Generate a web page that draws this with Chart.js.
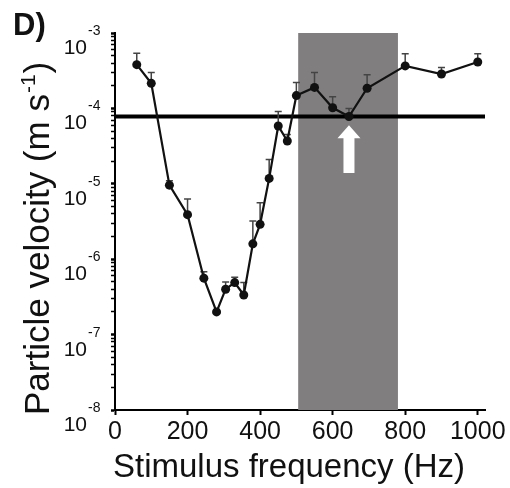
<!DOCTYPE html>
<html>
<head>
<meta charset="utf-8">
<script src="https://cdn.jsdelivr.net/npm/chart.js@4"></script>
<style>
  html,body{margin:0;padding:0;background:#fff;}
  #wrap{width:510px;height:488px;position:relative;}
</style>
</head>
<body>
<div id="wrap"><canvas id="pv"></canvas></div>
<script>
// stimulus frequency (Hz) and particle velocity threshold (m/s)
const freqHz   = [60, 100, 150, 200, 245, 280, 305, 330, 355, 380, 400, 425, 450, 475, 500, 550, 600, 645, 695, 800, 900, 1000];
const velocity = [3.8e-4, 2.15e-4, 9.6e-6, 3.9e-6, 5.6e-7, 2.0e-7, 4.0e-7, 4.9e-7, 3.35e-7, 1.6e-6, 2.9e-6, 1.18e-5, 5.85e-5, 3.7e-5, 1.48e-4, 1.9e-4, 1.02e-4, 7.8e-5, 1.85e-4, 3.66e-4, 2.86e-4, 4.12e-4];
// upper end of the error bars (only the upper half is drawn)
const errTop   = [5.4e-4, 3.0e-4, 1.1e-5, 6.3e-6, 6.8e-7, null, 5.0e-7, 5.75e-7, 4.9e-7, 3.2e-6, 5.6e-6, 2.1e-5, 9.1e-5, 4.5e-5, 2.2e-4, 3.0e-4, 1.43e-4, 1.0e-4, 2.8e-4, 5.3e-4, 3.5e-4, 5.3e-4];

const thresholdLevel = 7.8e-5;
const bandHz = [505, 780];
const arrowHz = 645, arrowTip = 6.0e-5, arrowBase = 1.39e-5;

const xTicks = [0, 200, 400, 600, 800, 1000];
const yExponents = [-8, -7, -6, -5, -4, -3];
const xMax = 1020;

const FONT = "'Liberation Sans', Arial, sans-serif";

const band = {
  id: 'band',
  beforeDatasetsDraw(chart){
    const {ctx, chartArea:a, scales:{x}} = chart;
    ctx.save();
    ctx.fillStyle = '#807e7e';
    const x0 = x.getPixelForValue(bandHz[0]), x1 = x.getPixelForValue(bandHz[1]);
    ctx.fillRect(x0, a.top, x1 - x0, a.bottom - a.top);
    ctx.restore();
  },
  beforeDatasetDraw(chart, args){
    if (args.index !== 0) return;
    const {ctx, scales:{x, y}} = chart;
    ctx.save();
    ctx.strokeStyle = '#444';
    ctx.lineWidth = 1.5;
    freqHz.forEach((f, i) => {
      if (errTop[i] == null) return;
      const px = x.getPixelForValue(f), y0 = y.getPixelForValue(velocity[i]), y1 = y.getPixelForValue(errTop[i]);
      ctx.beginPath();
      ctx.moveTo(px, y0); ctx.lineTo(px, y1);
      ctx.moveTo(px - 3.5, y1); ctx.lineTo(px + 3.5, y1);
      ctx.stroke();
    });
    ctx.restore();
  },
  afterDatasetsDraw(chart){
    const {ctx, scales:{x, y}} = chart;
    const px = x.getPixelForValue(arrowHz), tip = y.getPixelForValue(arrowTip), base = y.getPixelForValue(arrowBase);
    const head = tip + 13;
    ctx.save();
    ctx.fillStyle = '#fff';
    ctx.beginPath();
    ctx.moveTo(px, tip);
    ctx.lineTo(px + 11.5, head);
    ctx.lineTo(px + 5.5, head);
    ctx.lineTo(px + 5.5, base);
    ctx.lineTo(px - 5.5, base);
    ctx.lineTo(px - 5.5, head);
    ctx.lineTo(px - 11.5, head);
    ctx.closePath();
    ctx.fill();
    ctx.restore();
  }
};

// panel letter, log tick labels with exponents, axis titles
const labels = {
  id: 'labels',
  afterDraw(chart){
    const {ctx, scales:{y}} = chart;
    ctx.save();
    ctx.fillStyle = '#111';
    ctx.textBaseline = 'alphabetic';

    ctx.font = 'bold 31px ' + FONT;
    ctx.textAlign = 'left';
    ctx.fillText('D)', 13, 35);

    yExponents.forEach(e => {
      const py = y.getPixelForValue(Math.pow(10, e));
      ctx.font = '21px ' + FONT;
      ctx.textAlign = 'right';
      ctx.fillText('10', 87, py + 21);
      ctx.font = '14px ' + FONT;
      ctx.textAlign = 'left';
      ctx.fillText('-' + (-e), 88, py + 2);
    });

    // y title, rotated
    ctx.translate(49, 415);
    ctx.rotate(-Math.PI / 2);
    ctx.textAlign = 'left';
    ctx.font = '35px ' + FONT;
    const main = 'Particle velocity (m s';
    ctx.fillText(main, 0, 0);
    let w = ctx.measureText(main).width;
    ctx.font = '21px ' + FONT;
    ctx.fillText('-1', w + 1, -14);
    w += ctx.measureText('-1').width + 2;
    ctx.font = '35px ' + FONT;
    ctx.fillText(')', w, 0);
    ctx.setTransform(1, 0, 0, 1, 0, 0);

    ctx.font = '33px ' + FONT;
    ctx.textAlign = 'center';
    ctx.fillText('Stimulus frequency (Hz)', 289, 477);
    ctx.restore();
  }
};

new Chart(document.getElementById('pv'), {
  type: 'scatter',
  data: {
    datasets: [
      {
        label: 'velocity',
        data: freqHz.map((f, i) => ({x: f, y: velocity[i]})),
        showLine: true,
        borderColor: '#111',
        borderWidth: 2.2,
        pointRadius: 4.5,
        pointBackgroundColor: '#111',
        pointBorderWidth: 0,
        tension: 0
      },
      {
        label: 'threshold',
        data: [{x: 0, y: thresholdLevel}, {x: xMax, y: thresholdLevel}],
        showLine: true,
        borderColor: '#000',
        borderWidth: 4,
        pointRadius: 0
      }
    ]
  },
  options: {
    responsive: true,
    maintainAspectRatio: false,
    animation: false,
    layout: {padding: {left: 0, top: 33, right: 25, bottom: 0}},
    plugins: {legend: {display: false}, tooltip: {enabled: false}},
    scales: {
      x: {
        type: 'linear', min: 0, max: xMax,
        afterBuildTicks: s => { s.ticks = xTicks.map(v => ({value: v})); },
        afterFit: s => { s.height = 78; },
        border: {color: '#000', width: 2},
        grid: {drawOnChartArea: false, drawTicks: true, tickLength: 5, tickWidth: 2, tickColor: '#000'},
        ticks: {color: '#111', padding: 2, maxRotation: 0, font: {family: FONT, size: 25},
          callback: v => String(v)}
      },
      y: {
        type: 'logarithmic', min: 1e-8, max: 1e-3,
        afterBuildTicks: s => {
          const t = [];
          yExponents.forEach(e => {
            for (let m = 1; m <= 9; m++) {
              if (e === -3 && m > 1) break;
              t.push({value: m * Math.pow(10, e), major: m === 1});
            }
          });
          s.ticks = t;
        },
        afterFit: s => { s.width = 115; },
        border: {color: '#000', width: 2},
        grid: {drawOnChartArea: false, drawTicks: true, tickLength: 4, tickColor: '#000',
          tickWidth: c => (c.tick && c.tick.major ? 2.5 : 1.5)},
        ticks: {display: false}
      }
    }
  },
  plugins: [band, labels]
});
</script>
</body>
</html>
